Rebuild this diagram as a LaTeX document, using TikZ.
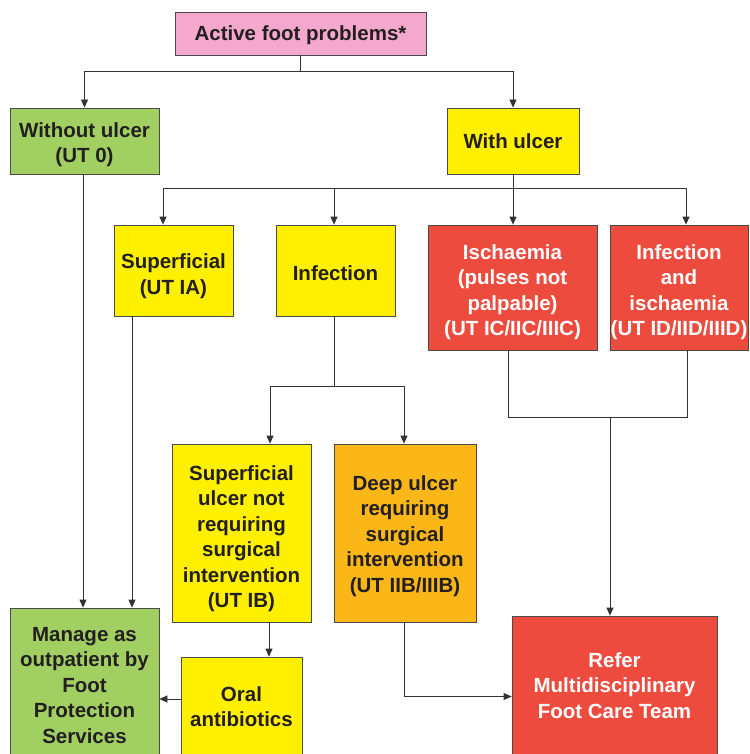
\documentclass[tikz,border=0pt]{standalone}
\usepackage{fontspec}
\setmainfont{Liberation Sans}
\usetikzlibrary{arrows.meta,calc}
\definecolor{cpink}{HTML}{F4A8CE}
\definecolor{cgreen}{HTML}{A2CF62}
\definecolor{cyellow}{HTML}{FFF000}
\definecolor{corange}{HTML}{FBB718}
\definecolor{cred}{HTML}{EE4B3F}
\definecolor{cborder}{HTML}{4A4A4A}
\definecolor{cline}{HTML}{333333}
\definecolor{ctext}{HTML}{231F20}
\newcommand\tx[2]{\raisebox{-#1pt}[\height][\depth]{\begin{tabular}{@{}c@{}}#2\end{tabular}}}
\begin{document}
\begin{tikzpicture}[x=1pt,y=-1pt,
  box/.style={draw=cborder, line width=0.8pt, inner sep=0pt, align=center, text=ctext,
    font=\fontsize{20.5}{25.5}\selectfont\bfseries},
  redbox/.style={box, fill=cred, text=white},
  arr/.style={draw=cline, line width=0.8pt, -{Triangle[length=8pt,width=7pt]}},
  ln/.style={draw=cline, line width=0.8pt}]
\useasboundingbox (0,0) rectangle (749,754);
\clip (0,0) rectangle (749,754);
\node[box, fill=cpink, minimum width=251pt, minimum height=43pt] (act) at (300.5,33.5) {\tx{2}{Active foot problems*}};
\node[box, fill=cgreen, minimum width=149pt, minimum height=66pt] (wo) at (84.5,141) {\tx{4}{Without ulcer\\(UT 0)}};
\node[box, fill=cyellow, minimum width=132pt, minimum height=66pt] (wu) at (513,141) {\tx{2}{With ulcer}};
\node[box, fill=cyellow, minimum width=119pt, minimum height=91pt] (sup) at (173.5,270.5) {\tx{6}{Superficial\\(UT IA)}};
\node[box, fill=cyellow, minimum width=119pt, minimum height=91pt] (inf) at (335.5,270.5) {\tx{5}{Infection}};
\node[redbox, minimum width=169pt, minimum height=125pt] (isc) at (512.5,287.5) {\tx{5}{Ischaemia\\(pulses not\\palpable)\\(UT IC/IIC/IIIC)}};
\node[redbox, minimum width=138pt, minimum height=125pt] (ii) at (679,287.5) {\tx{5}{Infection\\and\\ischaemia\\(UT ID/IID/IIID)}};
\node[box, fill=cyellow, minimum width=139pt, minimum height=178pt] (su) at (241.5,533) {\tx{6}{Superficial\\ulcer not\\requiring\\surgical\\intervention\\(UT IB)}};
\node[box, fill=corange, minimum width=142pt, minimum height=178pt] (dp) at (405,533) {\tx{3}{Deep ulcer\\requiring\\surgical\\intervention\\(UT IIB/IIIB)}};
\node[box, fill=cgreen, minimum width=149pt, minimum height=156pt] (man) at (84.5,686) {\tx{1}{Manage as\\outpatient by\\Foot\\Protection\\Services}};
\node[box, fill=cyellow, minimum width=121pt, minimum height=100pt] (oral) at (241.5,707) {\tx{2}{Oral\\antibiotics}};
\node[redbox, minimum width=205pt, minimum height=139pt] (ref) at (614.5,685.5) {\tx{2}{Refer\\Multidisciplinary\\Foot Care Team}};
% connectors
\draw[ln] (act.south) -- ++(0,16) coordinate (j1);
\draw[arr] (j1) -| (wo.north);
\draw[arr] (j1) -| (wu.north);
\draw[ln] (wu.south) -- ++(0,14) coordinate (j2);
\draw[arr] (j2) -| ([xshift=-10.5pt]sup.north);
\draw[arr] (j2) -| ([xshift=-1.5pt]inf.north);
\draw[arr] (j2) -- (j2 |- isc.north);
\draw[arr] (j2) -| ([xshift=7pt]ii.north);
\draw[ln] ([xshift=-1.5pt]inf.south) -- ++(0,70) coordinate (j3);
\draw[arr] (j3) -| ([xshift=28.5pt]su.north);
\draw[arr] (j3) -| ([xshift=-1pt]dp.north);
\draw[ln] ([xshift=-4.5pt]isc.south) -- ++(0,67) coordinate (j4);
\draw[ln] ([xshift=8pt]ii.south) |- (j4);
\coordinate (j5) at (610,417);
\draw[arr] (j5) -- (j5 |- ref.north);
\coordinate (s0) at ([xshift=-1.5pt]wo.south);
\draw[arr] (s0) -- (s0 |- man.north);
\coordinate (s1) at ([xshift=-41.5pt]sup.south);
\draw[arr] (s1) -- (s1 |- man.north);
\coordinate (s2) at ([xshift=27.5pt]su.south);
\draw[arr] (s2) -- (s2 |- oral.north);
\coordinate (s3) at ([yshift=8pt]oral.west);
\draw[arr] (s3) -- (s3 -| man.east);
\draw[arr] ([xshift=-1pt]dp.south) |- ([yshift=-11pt]ref.west);
\end{tikzpicture}
\end{document}
